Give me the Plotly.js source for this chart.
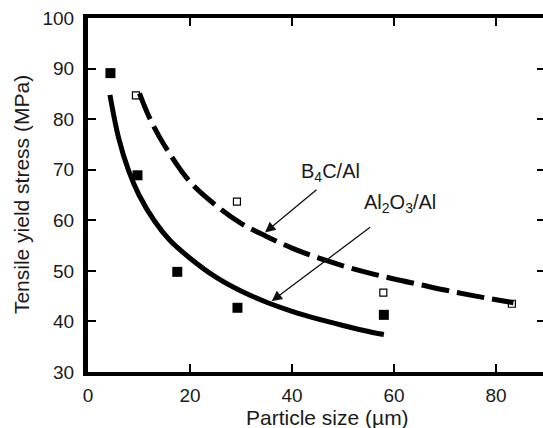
<!DOCTYPE html>
<html>
<head>
<meta charset="utf-8">
<script src="https://cdn.plot.ly/plotly-3.0.1.min.js"></script>
<style>html,body{margin:0;padding:0;background:#fff;}#chart{width:543px;height:428px;}</style>
</head>
<body>
<div id="chart"></div>
<script>
// Measured data points
var al2o3X = [4.4, 9.7, 17.5, 29.3, 58.0];
var al2o3Y = [89.1, 68.9, 49.8, 42.7, 41.3];
var b4cX = [9.4, 29.2, 57.9, 83.1];
var b4cY = [84.7, 63.7, 45.7, 43.5];

// Fitted curves
var al2o3CurveX = [4.3, 6, 8, 10, 13, 16, 20, 25, 30, 35, 40, 45, 50, 55, 58];
var al2o3CurveY = [84.8, 76.3, 69.7, 65.0, 59.9, 56.1, 52.5, 48.8, 46.0, 43.8, 42.0, 40.5, 39.2, 38.0, 37.4];
var b4cCurveX = [10.1, 12, 15, 20, 25, 30, 35, 40, 45, 50, 55, 60, 65, 70, 75, 83.4];
var b4cCurveY = [85.1, 80.4, 74.8, 67.6, 63.0, 59.4, 56.8, 54.5, 52.6, 51.0, 49.6, 48.4, 47.3, 46.2, 45.2, 43.7];

var xTicks = [0, 20, 40, 60, 80];
var yTicks = [30, 40, 50, 60, 70, 80, 90, 100];

var labelB4C = 'B<sub>4</sub>C/Al';
var labelAl2O3 = 'Al<sub>2</sub>O<sub>3</sub>/Al';

var FONT = 'Liberation Sans, Arial, sans-serif';
var TXT = '#1a1a1a';

var traces = [
  {x: al2o3CurveX, y: al2o3CurveY, mode: 'lines', line: {color: '#000', width: 5, shape: 'spline'}, hoverinfo: 'skip'},
  {x: b4cCurveX, y: b4cCurveY, mode: 'lines', line: {color: '#000', width: 5, dash: '28px,8px', shape: 'spline'}, hoverinfo: 'skip'},
  {x: al2o3X, y: al2o3Y, mode: 'markers', marker: {symbol: 'square', size: 10, color: '#000'}},
  {x: b4cX, y: b4cY, mode: 'markers', marker: {symbol: 'square-open', size: 7, color: '#000', line: {width: 1.2, color: '#000'}}},
  {x: [null], y: [null], xaxis: 'x', yaxis: 'y2', mode: 'markers', hoverinfo: 'skip'}
];

var axisCommon = {
  showgrid: false, zeroline: false, linecolor: '#000',
  ticks: 'inside', ticklen: 8, tickwidth: 2, tickcolor: '#000',
  tickfont: {family: FONT, size: 19, color: TXT}
};

var layout = {
  width: 543, height: 428,
  margin: {l: 88, r: 0, t: 18, b: 56},
  paper_bgcolor: '#fff', plot_bgcolor: '#fff',
  showlegend: false,
  xaxis: Object.assign({}, axisCommon, {range: [0, 89.2], tickvals: xTicks, showline: true, linewidth: 4, mirror: 'ticks', ticklabelstandoff: 3}),
  yaxis: Object.assign({}, axisCommon, {range: [30, 100], tickvals: yTicks, showline: true, linewidth: 5, mirror: false, ticklabelstandoff: 5}),
  yaxis2: Object.assign({}, axisCommon, {range: [30, 100], tickvals: yTicks, overlaying: 'y', side: 'right', showline: false, showticklabels: false, ticklen: 6}),
  annotations: [
    {xref: 'paper', yref: 'paper', x: 0.526, y: -0.128, text: 'Particle size (µm)', showarrow: false,
     xanchor: 'center', yanchor: 'middle', font: {family: FONT, size: 21, color: TXT}},
    {xref: 'paper', yref: 'paper', x: -0.147, y: 0.5, text: 'Tensile yield stress (MPa)', showarrow: false,
     textangle: -90, xanchor: 'center', yanchor: 'middle', font: {family: FONT, size: 21, color: TXT}},
    {xref: 'x', yref: 'y', x: 47.5, y: 69.4, text: labelB4C, showarrow: false, xanchor: 'center', yanchor: 'middle',
     font: {family: FONT, size: 20, color: TXT}},
    {xref: 'x', yref: 'y', x: 61.2, y: 63.4, text: labelAl2O3, showarrow: false, xanchor: 'center', yanchor: 'middle',
     font: {family: FONT, size: 20, color: TXT}},
    {xref: 'x', yref: 'y', x: 34.7, y: 57.6, text: '', showarrow: true, ax: 53, ay: -44,
     arrowhead: 2, arrowsize: 1.6, arrowwidth: 1.3, arrowcolor: '#111'},
    {xref: 'x', yref: 'y', x: 36.0, y: 44.0, text: '', showarrow: true, ax: 100, ay: -75,
     arrowhead: 2, arrowsize: 1.6, arrowwidth: 1.3, arrowcolor: '#111'}
  ]
};

Plotly.newPlot('chart', traces, layout, {staticPlot: true, displayModeBar: false});
</script>
</body>
</html>
